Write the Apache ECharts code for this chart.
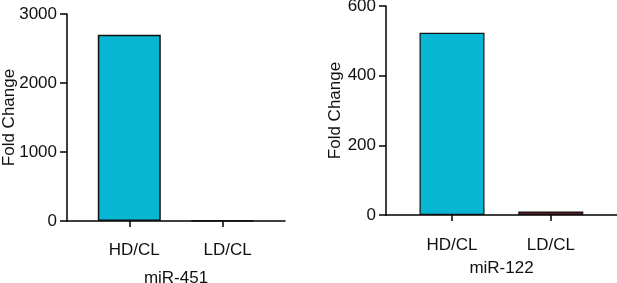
<!DOCTYPE html>
<html>
<head>
<meta charset="utf-8">
<script src="https://cdn.jsdelivr.net/npm/echarts@6/dist/echarts.min.js"></script>
<style>
  html, body { margin: 0; padding: 0; background: #fff; }
  #main { width: 617px; height: 283px; }
</style>
</head>
<body>
<div id="main"></div>
<script>
// data
const categories = ['HD/CL', 'LD/CL'];
const mir451Values = [2700, 8];
const mir122Values = [523, 10];
const barColors = ['#07b6d2', '#6e1f25'];
const mir451Ticks = [0, 1000, 2000, 3000];
const mir122Ticks = [0, 200, 400, 600];

const chart = echarts.init(document.getElementById('main'));

const font = 'Liberation Sans, Arial, sans-serif';

// bars sit at positions 0 and 1 on a value axis so the axis line can run past them
const toPoints = (vals) => vals.map((v, i) => ({
  value: [i, v],
  itemStyle: { color: barColors[i] }
}));

const makeX = (gridIndex, name, nameGap, margin, shift) => ({
  type: 'value',
  gridIndex: gridIndex,
  min: -0.668,
  max: 1.67,
  name: name,
  nameLocation: 'middle',
  nameGap: nameGap,
  nameMoveOverlap: false,
  nameTextStyle: { fontFamily: font, fontSize: 17, color: '#111' },
  splitLine: { show: false },
  axisLine: { onZero: false, lineStyle: { color: '#000', width: 1.5 } },
  axisTick: { show: true, length: 6, lineStyle: { color: '#000', width: 1.5 }, customValues: [0, 1] },
  axisLabel: {
    fontFamily: font, fontSize: 17, color: '#111', margin: margin,
    padding: [0, 0, 0, shift],
    customValues: [0, 1],
    formatter: (v) => categories[Math.round(v)] || ''
  }
});

const makeY = (gridIndex, ticks, nameGap) => ({
  type: 'value',
  gridIndex: gridIndex,
  min: ticks[0],
  max: ticks[ticks.length - 1],
  interval: ticks[1] - ticks[0],
  name: 'Fold Change',
  nameLocation: 'middle',
  nameGap: nameGap,
  nameMoveOverlap: false,
  nameTextStyle: { fontFamily: font, fontSize: 17, color: '#111' },
  splitLine: { show: false },
  axisLine: { show: true, onZero: false, lineStyle: { color: '#000', width: 1.5 } },
  axisTick: { show: true, length: 7, lineStyle: { color: '#000', width: 1.5 } },
  axisLabel: {
    fontFamily: font, fontSize: 17, color: '#111', margin: 10,
    formatter: (v) => String(v)
  }
});

const option = {
  animation: false,
  backgroundColor: '#fff',
  grid: [
    { left: 67, top: 14, width: 218, height: 207, outerBoundsMode: 'none' },
    { left: 386, top: 6, width: 231, height: 209, outerBoundsMode: 'none' }
  ],
  xAxis: [makeX(0, 'miR-451', 49, 21, 10), makeX(1, 'miR-122', 45, 22, 0)],
  yAxis: [makeY(0, mir451Ticks, 49), makeY(1, mir122Ticks, 42)],
  series: [
    {
      type: 'bar',
      xAxisIndex: 0, yAxisIndex: 0,
      barWidth: 63,
      data: toPoints(mir451Values),
      itemStyle: { borderColor: '#111', borderWidth: 1.5 }
    },
    {
      type: 'bar',
      xAxisIndex: 1, yAxisIndex: 1,
      barWidth: 65,
      data: toPoints(mir122Values),
      itemStyle: { borderColor: '#111', borderWidth: 1.2 }
    }
  ]
};

chart.setOption(option);
</script>
</body>
</html>
